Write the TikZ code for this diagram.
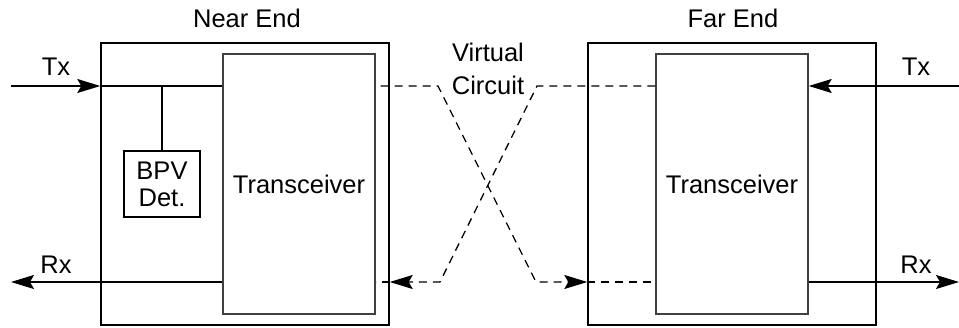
\documentclass[tikz,border=0pt]{standalone}
\usepackage{fontspec}
\setmainfont{Liberation Sans}
\usetikzlibrary{arrows.meta,calc}
\begin{document}
\begin{tikzpicture}[x=1pt,y=-1pt,
  every node/.style={font=\fontsize{25.5}{30}\selectfont, inner sep=0pt},
  box/.style={draw, line width=1.4pt, rectangle},
  inbox/.style={draw=black!75, line width=1.4pt, rectangle},
  wire/.style={line width=1.4pt},
  arr/.style={-{Stealth[length=23pt,width=14pt,inset=4pt]}},
  dline/.style={line width=1.3pt, dash pattern=on 8pt off 6pt}]
\useasboundingbox (0,0) rectangle (959,328);
% boxes
\node[box, minimum width=288pt, minimum height=282pt] (nout) at (245,184) {};
\node[inbox, minimum width=152pt, minimum height=260pt] (nin) at (299,184) {Transceiver};
\node[box, minimum width=76pt, minimum height=66pt, align=center] (bpv) at (162,184) {BPV\\[-3pt]Det.};
\node[box, minimum width=288pt, minimum height=282pt] (fout) at (732,184) {};
\node[inbox, minimum width=152pt, minimum height=260pt] (fin) at (732,184) {Transceiver};
% labels
\node (nlab) at (247,18) {Near End};
\node (flab) at (733,18) {Far End};
\node (vc1) at (488,52) {Virtual};
\node (vc2) at (488,85) {Circuit};
\node (ntx) at (56,67) {Tx};
\node (nrx) at (56,265) {Rx};
\node (ftx) at (916,67) {Tx};
\node (frx) at (916,265) {Rx};
% coordinates
\coordinate (ntxin) at (11,86);
\coordinate (nrxout) at (11,282);
\coordinate (ftxin) at (959,86);
\coordinate (frxout) at (959,282);
\coordinate (a1) at (438,86);
\coordinate (a2) at (536,282);
\coordinate (b1) at (537,86);
\coordinate (b2) at (440,282);
% near end wires
\draw[wire,arr] (ntxin) -- (ntxin -| nout.west);
\draw[wire] (ntxin -| nout.west) -- (ntxin -| nin.west);
\draw[wire] (bpv.north) -- (bpv.north |- ntxin);
\draw[wire,arr] (nrxout -| nin.west) -- (nrxout);
% far end wires
\draw[wire,arr] (ftxin) -- (ftxin -| fin.east);
\draw[wire,arr] (frxout -| fin.east) -- (frxout);
% virtual circuit
\draw[dline,arr] (ntxin -| nin.east) ++(5,0) -- (a1) -- (a2) -- (a2 -| fout.west);
\draw[dline] (a2 -| fout.west) -- (a2 -| fin.west);
\draw[dline,arr] (ftxin -| fin.west) -- (b1) -- (b2) -- (b2 -| nout.east);
\draw[dline] (b2 -| nout.east) -- (b2 -| nin.east);
\end{tikzpicture}
\end{document}
